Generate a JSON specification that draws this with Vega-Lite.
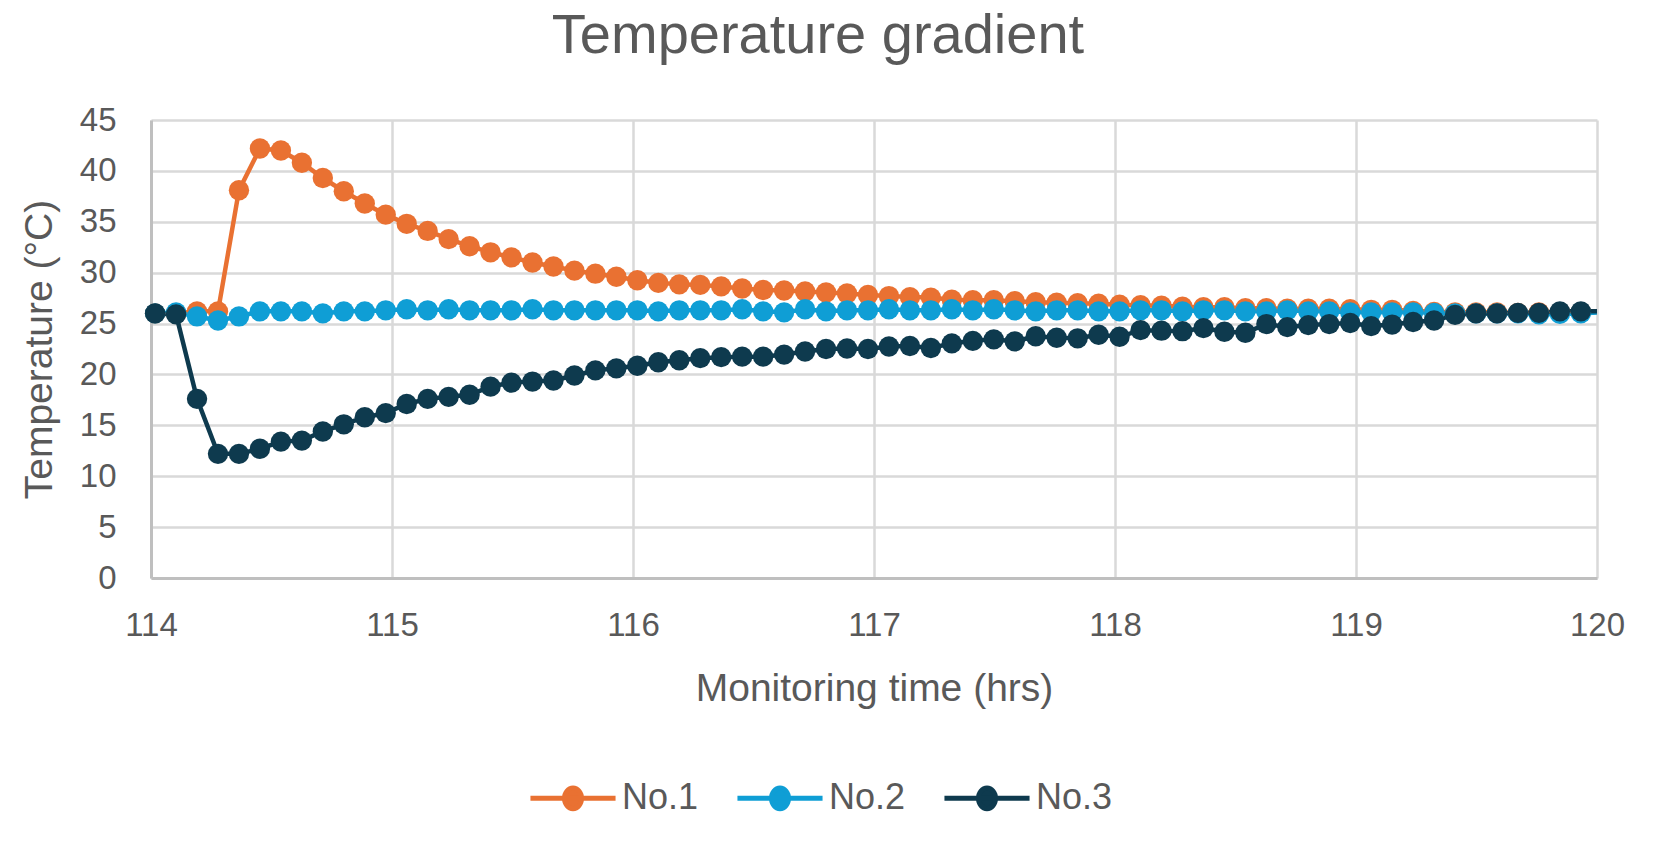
{
  "$schema": "https://vega.github.io/schema/vega-lite/v6.json",
  "autosize": {"type": "none"},
  "width": 1446,
  "height": 458,
  "padding": {"left": 151, "top": 120, "right": 61, "bottom": 278},
  "background": "white",
  "title": {
    "text": "Temperature gradient",
    "font": "Liberation Sans",
    "fontSize": 56,
    "fontWeight": "normal",
    "color": "#595959",
    "anchor": "middle",
    "baseline": "alphabetic",
    "dx": -56,
    "offset": -5
  },
  "data": {
    "values": [
      {"t": 114.017, "s": "No.1", "v": 26.0}, {"t": 114.104, "s": "No.1", "v": 26.0}, {"t": 114.191, "s": "No.1", "v": 26.2}, {"t": 114.278, "s": "No.1", "v": 26.2}, {"t": 114.365, "s": "No.1", "v": 38.1},
      {"t": 114.452, "s": "No.1", "v": 42.2}, {"t": 114.539, "s": "No.1", "v": 42.0}, {"t": 114.626, "s": "No.1", "v": 40.8}, {"t": 114.713, "s": "No.1", "v": 39.3}, {"t": 114.8, "s": "No.1", "v": 38.0},
      {"t": 114.887, "s": "No.1", "v": 36.8}, {"t": 114.974, "s": "No.1", "v": 35.7}, {"t": 115.061, "s": "No.1", "v": 34.8}, {"t": 115.148, "s": "No.1", "v": 34.1}, {"t": 115.235, "s": "No.1", "v": 33.3},
      {"t": 115.322, "s": "No.1", "v": 32.6}, {"t": 115.409, "s": "No.1", "v": 32.0}, {"t": 115.496, "s": "No.1", "v": 31.5}, {"t": 115.583, "s": "No.1", "v": 31.0}, {"t": 115.67, "s": "No.1", "v": 30.6},
      {"t": 115.757, "s": "No.1", "v": 30.2}, {"t": 115.844, "s": "No.1", "v": 29.9}, {"t": 115.931, "s": "No.1", "v": 29.6}, {"t": 116.018, "s": "No.1", "v": 29.25}, {"t": 116.105, "s": "No.1", "v": 29.0},
      {"t": 116.192, "s": "No.1", "v": 28.85}, {"t": 116.279, "s": "No.1", "v": 28.8}, {"t": 116.366, "s": "No.1", "v": 28.65}, {"t": 116.453, "s": "No.1", "v": 28.45}, {"t": 116.54, "s": "No.1", "v": 28.3},
      {"t": 116.627, "s": "No.1", "v": 28.25}, {"t": 116.714, "s": "No.1", "v": 28.15}, {"t": 116.801, "s": "No.1", "v": 28.05}, {"t": 116.888, "s": "No.1", "v": 27.95}, {"t": 116.975, "s": "No.1", "v": 27.8},
      {"t": 117.062, "s": "No.1", "v": 27.7}, {"t": 117.149, "s": "No.1", "v": 27.6}, {"t": 117.236, "s": "No.1", "v": 27.55}, {"t": 117.323, "s": "No.1", "v": 27.35}, {"t": 117.41, "s": "No.1", "v": 27.3},
      {"t": 117.497, "s": "No.1", "v": 27.3}, {"t": 117.584, "s": "No.1", "v": 27.2}, {"t": 117.671, "s": "No.1", "v": 27.1}, {"t": 117.758, "s": "No.1", "v": 27.05}, {"t": 117.845, "s": "No.1", "v": 27.0},
      {"t": 117.932, "s": "No.1", "v": 26.95}, {"t": 118.019, "s": "No.1", "v": 26.85}, {"t": 118.106, "s": "No.1", "v": 26.8}, {"t": 118.193, "s": "No.1", "v": 26.75}, {"t": 118.28, "s": "No.1", "v": 26.65},
      {"t": 118.367, "s": "No.1", "v": 26.6}, {"t": 118.454, "s": "No.1", "v": 26.6}, {"t": 118.541, "s": "No.1", "v": 26.5}, {"t": 118.628, "s": "No.1", "v": 26.5}, {"t": 118.715, "s": "No.1", "v": 26.45},
      {"t": 118.802, "s": "No.1", "v": 26.45}, {"t": 118.889, "s": "No.1", "v": 26.45}, {"t": 118.976, "s": "No.1", "v": 26.4}, {"t": 119.063, "s": "No.1", "v": 26.35}, {"t": 119.15, "s": "No.1", "v": 26.35},
      {"t": 119.237, "s": "No.1", "v": 26.25}, {"t": 119.324, "s": "No.1", "v": 26.15}, {"t": 119.411, "s": "No.1", "v": 26.1}, {"t": 119.498, "s": "No.1", "v": 26.1}, {"t": 119.585, "s": "No.1", "v": 26.1},
      {"t": 119.672, "s": "No.1", "v": 26.05}, {"t": 119.759, "s": "No.1", "v": 26.1}, {"t": 119.846, "s": "No.1", "v": 26.1}, {"t": 119.933, "s": "No.1", "v": 26.1}, {"t": 120.02, "s": "No.1", "v": 26.1},

      {"t": 114.017, "s": "No.2", "v": 26.0}, {"t": 114.104, "s": "No.2", "v": 26.1}, {"t": 114.191, "s": "No.2", "v": 25.7}, {"t": 114.278, "s": "No.2", "v": 25.3}, {"t": 114.365, "s": "No.2", "v": 25.7},
      {"t": 114.452, "s": "No.2", "v": 26.2}, {"t": 114.539, "s": "No.2", "v": 26.2}, {"t": 114.626, "s": "No.2", "v": 26.2}, {"t": 114.713, "s": "No.2", "v": 26.0}, {"t": 114.8, "s": "No.2", "v": 26.2},
      {"t": 114.887, "s": "No.2", "v": 26.2}, {"t": 114.974, "s": "No.2", "v": 26.3}, {"t": 115.061, "s": "No.2", "v": 26.4}, {"t": 115.148, "s": "No.2", "v": 26.3}, {"t": 115.235, "s": "No.2", "v": 26.4},
      {"t": 115.322, "s": "No.2", "v": 26.3}, {"t": 115.409, "s": "No.2", "v": 26.3}, {"t": 115.496, "s": "No.2", "v": 26.3}, {"t": 115.583, "s": "No.2", "v": 26.4}, {"t": 115.67, "s": "No.2", "v": 26.3},
      {"t": 115.757, "s": "No.2", "v": 26.3}, {"t": 115.844, "s": "No.2", "v": 26.3}, {"t": 115.931, "s": "No.2", "v": 26.3}, {"t": 116.018, "s": "No.2", "v": 26.3}, {"t": 116.105, "s": "No.2", "v": 26.2},
      {"t": 116.192, "s": "No.2", "v": 26.3}, {"t": 116.279, "s": "No.2", "v": 26.3}, {"t": 116.366, "s": "No.2", "v": 26.3}, {"t": 116.453, "s": "No.2", "v": 26.4}, {"t": 116.54, "s": "No.2", "v": 26.2},
      {"t": 116.627, "s": "No.2", "v": 26.1}, {"t": 116.714, "s": "No.2", "v": 26.4}, {"t": 116.801, "s": "No.2", "v": 26.2}, {"t": 116.888, "s": "No.2", "v": 26.3}, {"t": 116.975, "s": "No.2", "v": 26.3},
      {"t": 117.062, "s": "No.2", "v": 26.4}, {"t": 117.149, "s": "No.2", "v": 26.3}, {"t": 117.236, "s": "No.2", "v": 26.3}, {"t": 117.323, "s": "No.2", "v": 26.4}, {"t": 117.41, "s": "No.2", "v": 26.3},
      {"t": 117.497, "s": "No.2", "v": 26.4}, {"t": 117.584, "s": "No.2", "v": 26.3}, {"t": 117.671, "s": "No.2", "v": 26.2}, {"t": 117.758, "s": "No.2", "v": 26.3}, {"t": 117.845, "s": "No.2", "v": 26.3},
      {"t": 117.932, "s": "No.2", "v": 26.2}, {"t": 118.019, "s": "No.2", "v": 26.2}, {"t": 118.106, "s": "No.2", "v": 26.3}, {"t": 118.193, "s": "No.2", "v": 26.3}, {"t": 118.28, "s": "No.2", "v": 26.2},
      {"t": 118.367, "s": "No.2", "v": 26.3}, {"t": 118.454, "s": "No.2", "v": 26.3}, {"t": 118.541, "s": "No.2", "v": 26.2}, {"t": 118.628, "s": "No.2", "v": 26.2}, {"t": 118.715, "s": "No.2", "v": 26.3},
      {"t": 118.802, "s": "No.2", "v": 26.2}, {"t": 118.889, "s": "No.2", "v": 26.2}, {"t": 118.976, "s": "No.2", "v": 26.1}, {"t": 119.063, "s": "No.2", "v": 26.1}, {"t": 119.15, "s": "No.2", "v": 26.1},
      {"t": 119.237, "s": "No.2", "v": 26.1}, {"t": 119.324, "s": "No.2", "v": 26.05}, {"t": 119.411, "s": "No.2", "v": 26.0}, {"t": 119.498, "s": "No.2", "v": 26.0}, {"t": 119.585, "s": "No.2", "v": 26.0},
      {"t": 119.672, "s": "No.2", "v": 26.0}, {"t": 119.759, "s": "No.2", "v": 25.9}, {"t": 119.846, "s": "No.2", "v": 25.95}, {"t": 119.933, "s": "No.2", "v": 26.0}, {"t": 120.02, "s": "No.2", "v": 26.1},

      {"t": 114.017, "s": "No.3", "v": 26.0}, {"t": 114.104, "s": "No.3", "v": 25.9}, {"t": 114.191, "s": "No.3", "v": 17.6}, {"t": 114.278, "s": "No.3", "v": 12.2}, {"t": 114.365, "s": "No.3", "v": 12.2},
      {"t": 114.452, "s": "No.3", "v": 12.7}, {"t": 114.539, "s": "No.3", "v": 13.4}, {"t": 114.626, "s": "No.3", "v": 13.5}, {"t": 114.713, "s": "No.3", "v": 14.4}, {"t": 114.8, "s": "No.3", "v": 15.1},
      {"t": 114.887, "s": "No.3", "v": 15.8}, {"t": 114.974, "s": "No.3", "v": 16.2}, {"t": 115.061, "s": "No.3", "v": 17.1}, {"t": 115.148, "s": "No.3", "v": 17.6}, {"t": 115.235, "s": "No.3", "v": 17.8},
      {"t": 115.322, "s": "No.3", "v": 18.0}, {"t": 115.409, "s": "No.3", "v": 18.8}, {"t": 115.496, "s": "No.3", "v": 19.2}, {"t": 115.583, "s": "No.3", "v": 19.3}, {"t": 115.67, "s": "No.3", "v": 19.4},
      {"t": 115.757, "s": "No.3", "v": 19.9}, {"t": 115.844, "s": "No.3", "v": 20.4}, {"t": 115.931, "s": "No.3", "v": 20.6}, {"t": 116.018, "s": "No.3", "v": 20.85}, {"t": 116.105, "s": "No.3", "v": 21.2},
      {"t": 116.192, "s": "No.3", "v": 21.4}, {"t": 116.279, "s": "No.3", "v": 21.6}, {"t": 116.366, "s": "No.3", "v": 21.7}, {"t": 116.453, "s": "No.3", "v": 21.75}, {"t": 116.54, "s": "No.3", "v": 21.75},
      {"t": 116.627, "s": "No.3", "v": 21.95}, {"t": 116.714, "s": "No.3", "v": 22.25}, {"t": 116.801, "s": "No.3", "v": 22.5}, {"t": 116.888, "s": "No.3", "v": 22.55}, {"t": 116.975, "s": "No.3", "v": 22.5},
      {"t": 117.062, "s": "No.3", "v": 22.75}, {"t": 117.149, "s": "No.3", "v": 22.8}, {"t": 117.236, "s": "No.3", "v": 22.6}, {"t": 117.323, "s": "No.3", "v": 23.05}, {"t": 117.41, "s": "No.3", "v": 23.3},
      {"t": 117.497, "s": "No.3", "v": 23.45}, {"t": 117.584, "s": "No.3", "v": 23.25}, {"t": 117.671, "s": "No.3", "v": 23.75}, {"t": 117.758, "s": "No.3", "v": 23.6}, {"t": 117.845, "s": "No.3", "v": 23.55},
      {"t": 117.932, "s": "No.3", "v": 23.9}, {"t": 118.019, "s": "No.3", "v": 23.7}, {"t": 118.106, "s": "No.3", "v": 24.35}, {"t": 118.193, "s": "No.3", "v": 24.3}, {"t": 118.28, "s": "No.3", "v": 24.25},
      {"t": 118.367, "s": "No.3", "v": 24.55}, {"t": 118.454, "s": "No.3", "v": 24.2}, {"t": 118.541, "s": "No.3", "v": 24.1}, {"t": 118.628, "s": "No.3", "v": 24.95}, {"t": 118.715, "s": "No.3", "v": 24.65},
      {"t": 118.802, "s": "No.3", "v": 24.85}, {"t": 118.889, "s": "No.3", "v": 24.95}, {"t": 118.976, "s": "No.3", "v": 25.05}, {"t": 119.063, "s": "No.3", "v": 24.75}, {"t": 119.15, "s": "No.3", "v": 24.9},
      {"t": 119.237, "s": "No.3", "v": 25.15}, {"t": 119.324, "s": "No.3", "v": 25.3}, {"t": 119.411, "s": "No.3", "v": 25.85}, {"t": 119.498, "s": "No.3", "v": 26.0}, {"t": 119.585, "s": "No.3", "v": 26.0},
      {"t": 119.672, "s": "No.3", "v": 26.05}, {"t": 119.759, "s": "No.3", "v": 26.05}, {"t": 119.846, "s": "No.3", "v": 26.2}, {"t": 119.933, "s": "No.3", "v": 26.2}, {"t": 120.02, "s": "No.3", "v": 26.2}
    ]
  },
  "encoding": {
    "x": {
      "field": "t",
      "type": "quantitative",
      "scale": {"domain": [114, 120], "nice": false, "zero": false},
      "axis": {
        "values": [114, 115, 116, 117, 118, 119, 120],
        "title": "Monitoring time (hrs)",
        "labelPadding": 31,
        "titlePadding": 27
      }
    },
    "y": {
      "field": "v",
      "type": "quantitative",
      "scale": {"domain": [0, 45], "nice": false},
      "axis": {
        "values": [0, 5, 10, 15, 20, 25, 30, 35, 40, 45],
        "title": "Temperature (°C)",
        "labelPadding": 35,
        "titlePadding": 20
      }
    },
    "color": {
      "field": "s",
      "type": "nominal",
      "scale": {
        "domain": ["No.1", "No.2", "No.3"],
        "range": ["#E97132", "#0F9ED5", "#0E3A4E"]
      },
      "legend": {
        "orient": "none",
        "legendX": 404,
        "legendY": 660,
        "direction": "horizontal",
        "title": null,
        "padding": 0,
        "labelFont": "Liberation Sans",
        "labelFontSize": 36,
        "labelColor": "#595959",
        "symbolType": "M -3.7 0 L 3.7 0 M 0.74 0 A 0.74 0.9 0 1 1 -0.74 0 A 0.74 0.9 0 1 1 0.74 0 Z",
        "symbolSize": 529,
        "symbolStrokeWidth": 5,
        "labelOffset": 31,
        "columnPadding": 28,
        "encode": {
          "symbols": {
            "update": {
              "fill": {"scale": "color", "field": "value"},
              "stroke": {"scale": "color", "field": "value"},
              "opacity": {"value": 1},
              "fillOpacity": {"value": 1},
              "strokeOpacity": {"value": 1}
            }
          }
        }
      }
    }
  },
  "layer": [
    {"mark": {"type": "line", "strokeWidth": 4.5, "clip": true}},
    {
      "transform": [{"filter": "datum.t <= 120"}],
      "mark": {"type": "point", "shape": "circle", "filled": true, "size": 415, "opacity": 1}
    }
  ],
  "config": {
    "view": {"stroke": null},
    "axis": {
      "labelFont": "Liberation Sans",
      "labelFontSize": 33,
      "labelColor": "#595959",
      "titleFont": "Liberation Sans",
      "titleFontSize": 39,
      "titleFontWeight": "normal",
      "titleColor": "#595959",
      "gridColor": "#D9D9D9",
      "gridWidth": 2.5,
      "domainColor": "#BFBFBF",
      "domainWidth": 3,
      "ticks": false,
      "labelFlush": false,
      "labelOverlap": false
    }
  }
}
